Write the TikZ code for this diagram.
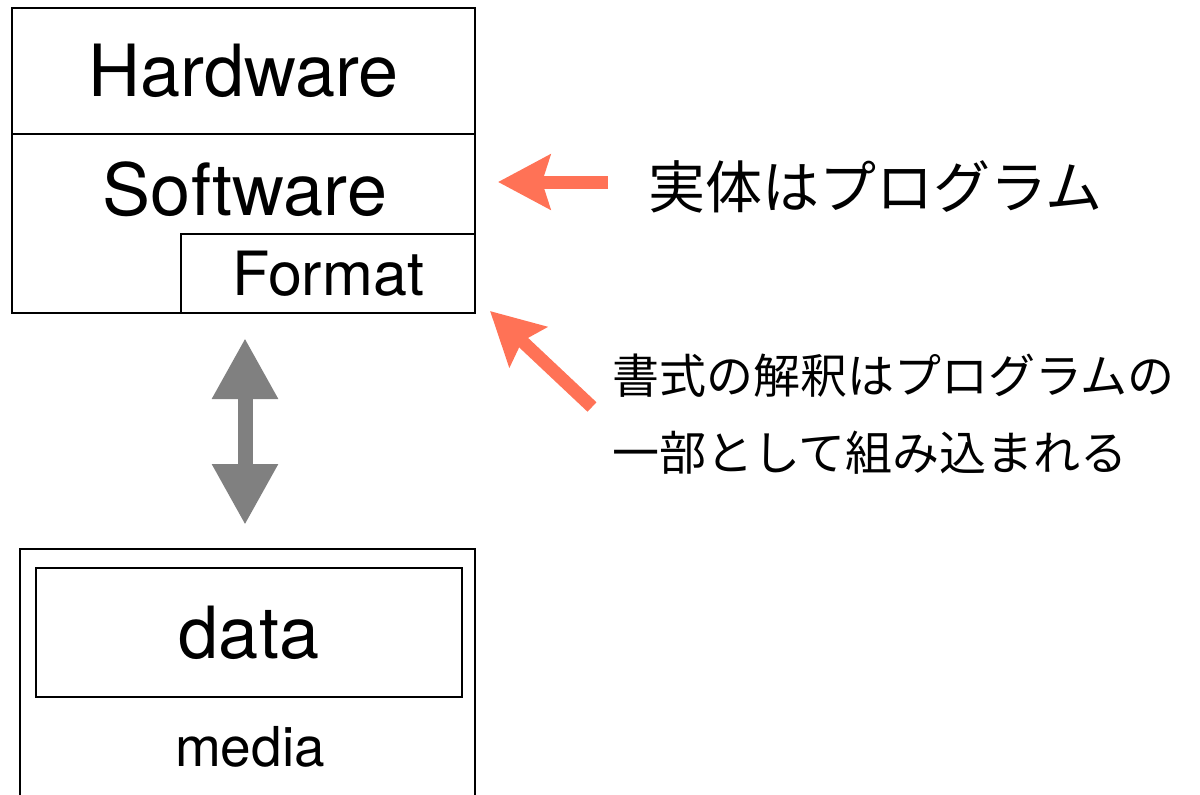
\documentclass[tikz,border=0pt]{standalone}
\usepackage{fontspec}
\setmainfont{TeX Gyre Heros}
\newfontfamily\jpfont{Noto Sans CJK JP}
\usetikzlibrary{arrows.meta}
\usetikzlibrary{positioning}
\definecolor{arrowred}{RGB}{255,114,86}
\definecolor{arrowgray}{RGB}{128,128,128}
\tikzstyle{layer_box} = [
    rectangle,
    draw=black,
    line width=1.5pt,
    inner sep=0pt,
    outer sep=0pt
]
\tikzstyle{note_text} = [
    inner sep=0pt,
    anchor=west,
    align=left
]
\tikzstyle{red_arrow} = [
    draw=arrowred,
    line width=13pt,
    -{Stealth[length=52pt, width=54pt, inset=8pt]}
]
\tikzstyle{gray_arrow} = [
    draw=arrowgray,
    line width=15pt,
    {Triangle[length=61pt, width=62pt]}-{Triangle[length=61pt, width=62pt]}
]

\begin{document}
\begin{tikzpicture}[x=1pt, y=-1pt]
\useasboundingbox (0,0) rectangle (1200,795);
\clip (0,0) rectangle (1200,795);

% computer side
\node [layer_box, anchor=north west, minimum width=463pt, minimum height=126pt,
    font=\fontsize{72}{86}\selectfont] (hardware) at (12,8) {Hardware};
\node [layer_box, anchor=north west, minimum width=463pt, minimum height=179pt]
    (software) at (hardware.south west) {};
\node [inner sep=0pt, font=\fontsize{72}{86}\selectfont] (software_text) at (245,189) {Software};
\node [layer_box, anchor=south east, minimum width=294pt, minimum height=79pt,
    font=\fontsize{61}{73}\selectfont] (format) at (software.south east) {Format};

% storage side
\node [layer_box, anchor=north west, minimum width=455pt, minimum height=270pt]
    (media) at (20,549) {};
\node [layer_box, line width=1.2pt, anchor=north west, minimum width=426pt, minimum height=129pt,
    font=\fontsize{72}{86}\selectfont] (data) at (36,568) {data};
\node [inner sep=0pt, font=\fontsize{55}{66}\selectfont] (media_text) at (250,747) {media};

% notes
\node [note_text, font=\jpfont\fontsize{57}{68}\selectfont] (entity) at (648,187) {実体はプログラム};
\node [note_text, font=\jpfont\fontsize{47}{77}\selectfont] (parse) at (612,414)
    {書式の解釈はプログラムの\\一部として組み込まれる};

\coordinate (entity_tail) at (608,182);
\coordinate (entity_tip) at (498,182);
\coordinate (parse_tail) at (592,407);
\coordinate (parse_tip) at (490,311);
\coordinate (link_top) at (245,338);
\coordinate (link_bottom) at (245,525);

\draw [red_arrow] (entity_tail) -- (entity_tip);
\draw [red_arrow] (parse_tail) -- (parse_tip);
\draw [gray_arrow] (link_top) -- (link_bottom);
\end{tikzpicture}
\end{document}
